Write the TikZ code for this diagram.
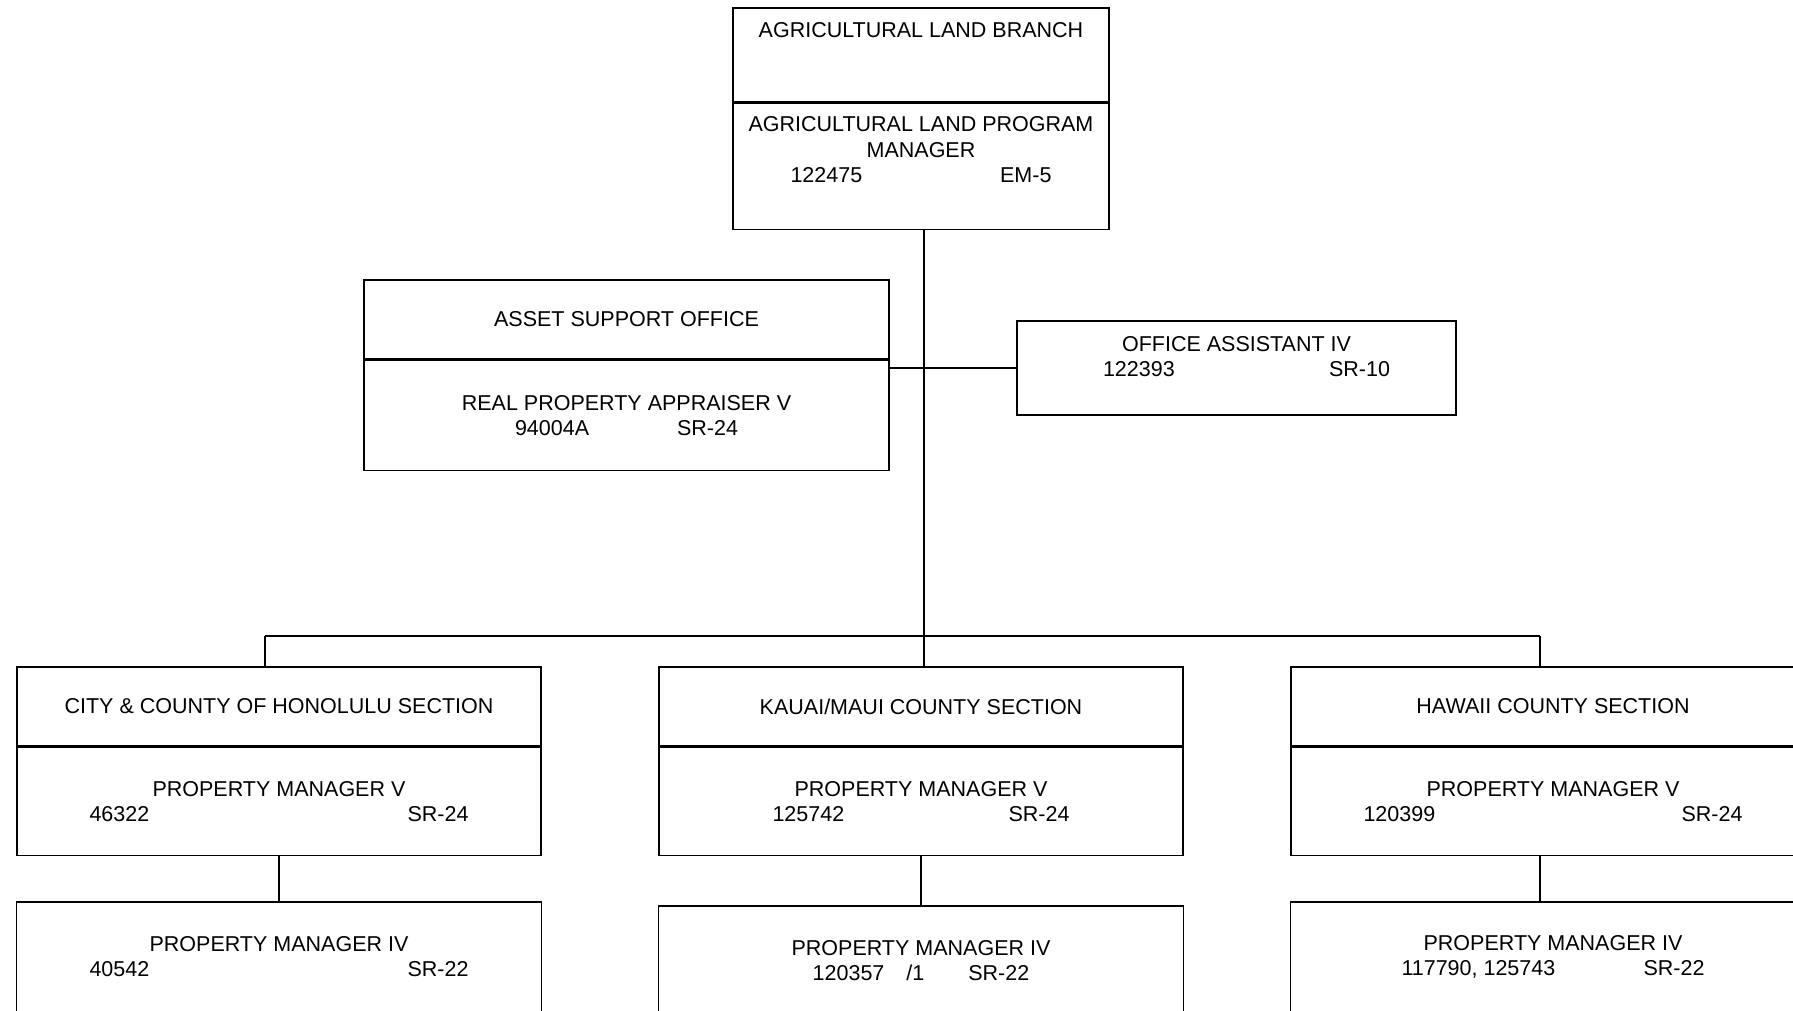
\documentclass[tikz,border=0pt]{standalone}
\usepackage{fontspec}
\setmainfont{Liberation Sans}
\usetikzlibrary{positioning}
\begin{document}
\begin{tikzpicture}[x=1pt, y=-1pt,
  box/.style={draw, line width=1.4pt, inner sep=0pt, align=center, font=\fontsize{21.5}{25.5}\selectfont},
  txt/.style={inner sep=0pt, align=center, font=\fontsize{21.5}{25.5}\selectfont},
  wire/.style={line width=1.4pt}]
\useasboundingbox (0,0) rectangle (1793,1010);
\clip (0,0) rectangle (1793,1010);
% branch
\node[box, minimum width=376pt, minimum height=94pt] (brt) at (921,55) {};
\node[box, minimum width=376pt, minimum height=126pt, below=0pt of brt] (brb) {};
\node[txt] (brt-tx) at (921,30) {AGRICULTURAL LAND BRANCH};
\node[txt] (brb-tx) at (921,150) {AGRICULTURAL LAND PROGRAM\\MANAGER\\\makebox[261pt]{122475\hfill EM-5}};
% staff
\node[box, minimum width=525pt, minimum height=79pt] (ast) at (626.5,319.5) {ASSET SUPPORT OFFICE};
\node[box, minimum width=525pt, minimum height=110pt, below=0pt of ast] (asb) {REAL PROPERTY APPRAISER V\\\makebox[223pt]{94004A\hfill SR-24}};
\node[box, minimum width=439pt, minimum height=94pt] (oa) at (1236.5,368) {};
\node[txt] (oa-tx) at (1236.5,356.5) {OFFICE ASSISTANT IV\\\hspace*{20pt}\makebox[287pt]{122393\hfill SR-10}};
% sections
\node[box, minimum width=524pt, minimum height=79pt] (lt) at (279,706.5) {CITY \& COUNTY OF HONOLULU SECTION};
\node[box, minimum width=524pt, minimum height=108pt, below=0pt of lt] (lb) {PROPERTY MANAGER V\\\makebox[379pt]{46322\hfill SR-24}};
\node[box, minimum width=525pt, minimum height=110pt, below=45pt of lb] (ll) {PROPERTY MANAGER IV\\\makebox[379pt]{40542\hfill SR-22}};
\node[box, minimum width=524pt, minimum height=79pt] (mt) at (921,706.5) {KAUAI/MAUI COUNTY SECTION};
\node[box, minimum width=524pt, minimum height=108pt, below=0pt of mt] (mb) {PROPERTY MANAGER V\\\makebox[297pt]{125742\hfill SR-24}};
\node[box, minimum width=525pt, minimum height=110pt, below=49pt of mb] (ml) {PROPERTY MANAGER IV\\120357\hspace{22pt}/1\hspace{44pt}SR-22};
\node[box, minimum width=524pt, minimum height=79pt] (rt) at (1553,706.5) {HAWAII COUNTY SECTION};
\node[box, minimum width=524pt, minimum height=108pt, below=0pt of rt] (rb) {PROPERTY MANAGER V\\\makebox[379pt]{120399\hfill SR-24}};
\node[box, minimum width=525pt, minimum height=110pt, below=45pt of rb] (rl) {PROPERTY MANAGER IV\\\makebox[303pt]{117790, 125743\hfill SR-22}};
% lines
\coordinate (trunk) at (924,636);
\coordinate (bus-l) at (265,636);
\coordinate (bus-r) at (1540,636);
\draw[wire] (brb.south -| trunk) -- (mt.north -| trunk);
\draw[wire] (asb.east |- oa.west) -- (oa.west);
\draw[line width=2.4pt] (oa.west -| trunk) -- (oa.west);
\draw[wire] (bus-l) -- (bus-r);
\draw[wire] (bus-l) -- (bus-l |- lt.north);
\draw[wire] (bus-r) -- (bus-r |- rt.north);
\draw[wire] (lb.south) -- (ll.north);
\draw[wire] (mb.south) -- (ml.north);
\draw[wire] (rb.south -| bus-r) -- (rl.north -| bus-r);
\end{tikzpicture}
\end{document}
